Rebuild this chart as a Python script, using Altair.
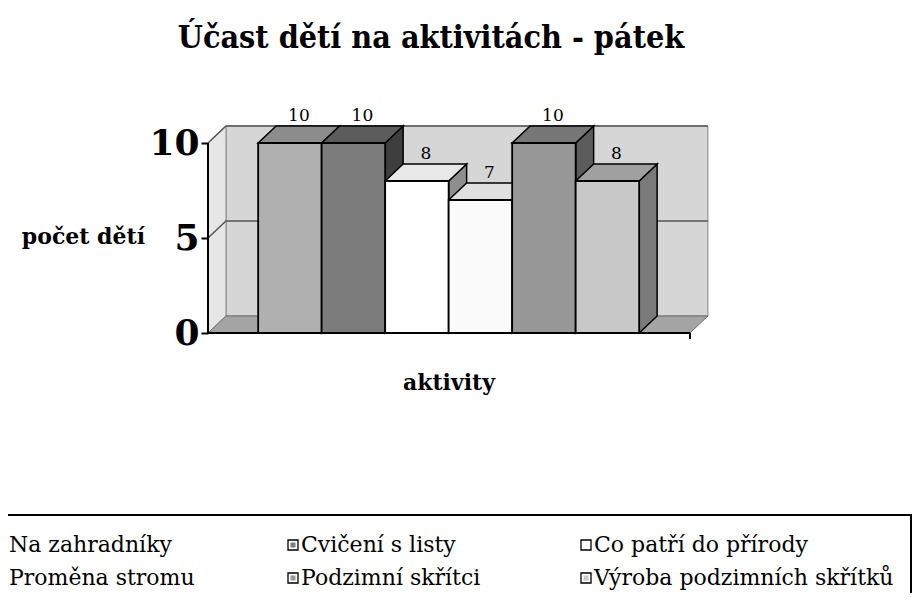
import altair as alt
import pandas as pd

# ---------------- data ----------------
TITLE = "Účast dětí na aktivitách - pátek"
Y_TITLE = "počet dětí"
X_TITLE = "aktivity"
ACTIVITIES = [
    "Na zahradníky",
    "Cvičení s listy",
    "Co patří do přírody",
    "Proměna stromu",
    "Podzimní skřítci",
    "Výroba podzimních skřítků",
]
COUNTS = [10, 10, 8, 7, 10, 8]
Y_TICKS = [0, 5, 10]

# ---------------- styles ----------------
FRONT = ["#b0b0b0", "#7c7c7c", "#ffffff", "#fafafa", "#989898", "#c8c8c8"]
TOP = ["#8c8c8c", "#5c5c5c", "#e8e8e8", "#e0e0e0", "#777777", "#a0a0a0"]
SIDE = ["#6a6a6a", "#3e3e3e", "#8e8e8e", "#8a8a8a", "#5c5c5c", "#7a7a7a"]

W, H = 508, 209
X_DOM, Y_DOM = [0, 8], [0, 11]
START = 0.79        # gap before first bar (in bar widths)
DX, DY = 0.283, 0.895  # 3D depth offset
FLOOR_END = 7.59
SERIF = "DejaVu Serif"
COND = "DejaVu Serif Condensed"

LEG_COL_X = [-200, 92, 385]
LEG_ROW_Y = [421, 454]


def xs():
    return alt.Scale(domain=X_DOM, nice=False, zero=False)


def ys():
    return alt.Scale(domain=Y_DOM, nice=False, zero=False)


def X(f="x"):
    return alt.X(f"{f}:Q", scale=xs(), axis=None)


def Y(f="y", axis=None):
    return alt.Y(f"{f}:Q", scale=ys(), axis=axis)


# ---------------- tables built from the arrays ----------------
bars = pd.DataFrame({
    "name": ACTIVITIES,
    "v": COUNTS,
    "front": FRONT,
    "i": range(len(COUNTS)),
})
bars["x0"] = START + bars["i"]
bars["x1"] = bars["x0"] + 1
bars["y0"] = 0
bars["lx"] = bars["x0"] + 0.5 + DX / 2
bars["ly"] = bars["v"] + DY

top_rows, side_rows = [], []
for i, v in enumerate(COUNTS):
    x0 = START + i
    x1 = x0 + 1
    for (x, y, y2) in [(x0, v, v), (x0 + DX, v, v + DY),
                       (x1, v, v + DY), (x1 + DX, v + DY, v + DY)]:
        top_rows.append({"b": i, "x": x, "y": y, "y2": y2, "c": TOP[i]})
    for (x, y, y2) in [(x1, 0, v), (x1 + DX, DY, v + DY)]:
        side_rows.append({"b": i, "x": x, "y": y, "y2": y2, "c": SIDE[i]})
tops = pd.DataFrame(top_rows)
sides = pd.DataFrame(side_rows)

# walls
back = pd.DataFrame({"x": [DX], "x2": [FLOOR_END + DX], "y": [DY], "y2": [10 + DY]})
left = pd.DataFrame({"x": [0, DX], "y": [0, DY], "y2": [10, 10 + DY]})
floor = pd.DataFrame({"x": [0, DX, FLOOR_END, FLOOR_END + DX],
                      "y": [0, 0, 0, DY], "y2": [0, DY, DY, DY]})
grid_rows = []
for g in [5, 10]:
    for k, (x, y) in enumerate([(0, g), (DX, g + DY), (FLOOR_END + DX, g + DY)]):
        grid_rows.append({"g": g, "k": k, "x": x, "y": y})
grid = pd.DataFrame(grid_rows)

# ---------------- layers ----------------
back_l = alt.Chart(back).mark_rect(fill="#d6d6d6", stroke="#8a8a8a", strokeWidth=1).encode(
    x=X(), x2="x2:Q", y=Y(), y2="y2:Q")
left_l = alt.Chart(left).mark_area(fill="#e6e6e6", stroke="#8a8a8a", strokeWidth=1).encode(
    x=X(), y=Y(), y2="y2:Q")
floor_l = alt.Chart(floor).mark_area(fill="#a4a4a4", stroke="#6e6e6e", strokeWidth=1).encode(
    x=X(), y=Y(), y2="y2:Q")
grid_l = alt.Chart(grid).mark_line(color="#555555", strokeWidth=1.5).encode(
    x=X(), y=Y(), detail="g:N", order="k:Q")

side_l = alt.Chart(sides).mark_area(stroke="black", strokeWidth=1.5).encode(
    x=X(), y=Y(), y2="y2:Q", detail="b:N",
    fill=alt.Fill("c:N", scale=None))
top_l = alt.Chart(tops).mark_area(stroke="black", strokeWidth=1.5).encode(
    x=X(), y=Y(), y2="y2:Q", detail="b:N",
    fill=alt.Fill("c:N", scale=None))
front_l = alt.Chart(bars).mark_rect(stroke="black", strokeWidth=1.8).encode(
    x=X("x0"), x2="x1:Q",
    y=Y("y0", axis=alt.Axis(values=Y_TICKS, domain=False, grid=False, tickSize=7,
                             tickWidth=2, tickColor="black", labelFont=SERIF,
                             labelFontSize=36, labelFontWeight="bold",
                             labelColor="black", labelPadding=2, title=None)),
    y2="v:Q",
    fill=alt.Fill("front:N", scale=None))
label_l = alt.Chart(bars).mark_text(font=SERIF, fontSize=17, baseline="bottom",
                                    color="black", dy=-1).encode(
    x=X("lx"), y=Y("ly"), text="v:Q")

axis_df = pd.DataFrame({"x": [0], "x2": [FLOOR_END], "y": [0], "y2": [10]})
yaxis_l = alt.Chart(axis_df).mark_rule(color="black", strokeWidth=2).encode(
    x=X(), y=Y(), y2="y2:Q")
xaxis_l = alt.Chart(axis_df).mark_rule(color="black", strokeWidth=2).encode(
    x=X(), x2="x2:Q", y=Y())
xtick_l = alt.Chart(axis_df).mark_rule(color="black", strokeWidth=2).encode(
    x=X("x2"), y=alt.value(H), y2=alt.value(H + 6))

# texts
txt = pd.DataFrame({"t": [TITLE]})
title_l = alt.Chart(txt).mark_text(font=COND, fontSize=32, fontWeight="bold",
                                   align="center", baseline="alphabetic", color="black").encode(
    x=alt.value(223), y=alt.value(-76), text="t:N")
ytitle_l = alt.Chart(pd.DataFrame({"t": [Y_TITLE]})).mark_text(
    font=SERIF, fontSize=22, fontWeight="bold", align="right", baseline="middle",
    color="black").encode(x=alt.value(-63), y=alt.value(113), text="t:N")
xtitle_l = alt.Chart(pd.DataFrame({"t": [X_TITLE]})).mark_text(
    font=SERIF, fontSize=22, fontWeight="bold", align="center", baseline="middle",
    color="black").encode(x=alt.value(241), y=alt.value(259), text="t:N")

# legend
leg = pd.DataFrame({"name": ACTIVITIES, "c": FRONT})
leg["col"] = [k % 3 for k in range(len(ACTIVITIES))]
leg["row"] = [k // 3 for k in range(len(ACTIVITIES))]
leg["tx"] = [LEG_COL_X[c] for c in leg["col"]]
leg["ty"] = [LEG_ROW_Y[r] for r in leg["row"]]
leg["mx"] = leg["tx"] - 7

box_l = alt.Chart(pd.DataFrame({"a": [0]})).mark_rect(
    fill="white", stroke="black", strokeWidth=2).encode(
    x=alt.value(-212), x2=alt.value(703), y=alt.value(391), y2=alt.value(520))
mk_out = alt.Chart(leg).mark_square(size=100, fill="white", stroke="black",
                                    strokeWidth=1.3, opacity=1).encode(
    x=alt.X("mx:Q", scale=None, axis=None), y=alt.Y("ty:Q", scale=None, axis=None))
mk_in = alt.Chart(leg).mark_square(size=25, opacity=1).encode(
    x=alt.X("mx:Q", scale=None, axis=None), y=alt.Y("ty:Q", scale=None, axis=None),
    fill=alt.Fill("c:N", scale=None))
leg_txt = alt.Chart(leg).mark_text(font=SERIF, fontSize=22, align="left",
                                   baseline="middle", color="black", dx=1).encode(
    x=alt.X("tx:Q", scale=None, axis=None), y=alt.Y("ty:Q", scale=None, axis=None),
    text="name:N")

chart = alt.layer(
    back_l, left_l, floor_l, grid_l, side_l, top_l, front_l, label_l,
    yaxis_l, xaxis_l, xtick_l, title_l, ytitle_l, xtitle_l,
    box_l, mk_out, mk_in, leg_txt,
).resolve_scale(x="independent", y="independent").properties(
    width=W, height=H,
    autosize=alt.AutoSizeParams(type="none"),
    padding={"left": 200, "top": 116, "right": 197, "bottom": 260},
    background="white",
).configure_view(stroke=None)

chart.save("out.html", embed_options={"renderer": "svg", "actions": False})
